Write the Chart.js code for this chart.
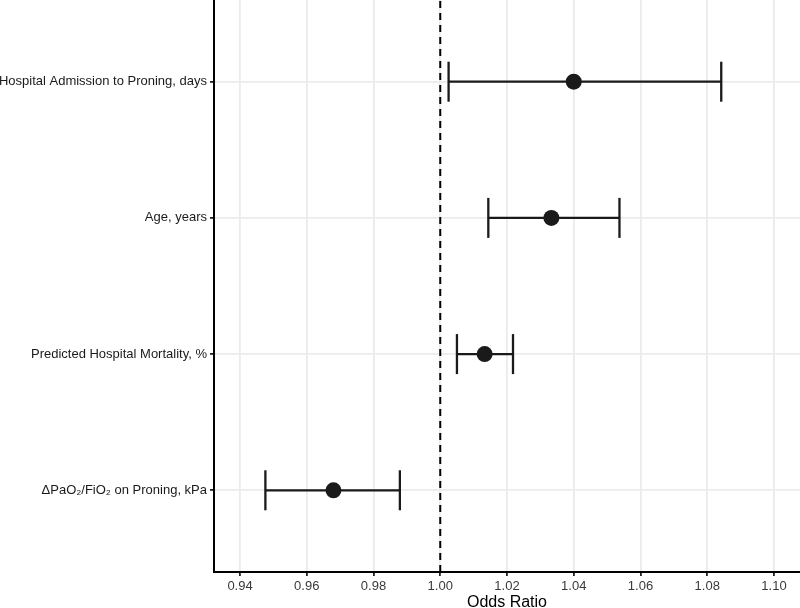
<!DOCTYPE html>
<html>
<head>
<meta charset="utf-8">
<script src="https://cdn.jsdelivr.net/npm/chart.js@4"></script>
<style>
  html,body{margin:0;padding:0;background:#fff;}
  #wrap{width:800px;height:608px;position:relative;}
</style>
</head>
<body>
<div id="wrap"><canvas id="c" width="800" height="608"></canvas></div>
<script>
// Categories from bottom (1) to top (4)
const categories = [
  "ΔPaO₂/FiO₂ on Proning, kPa",
  "Predicted Hospital Mortality, %",
  "Age, years",
  "Hospital Admission to Proning, days"
];
const oddsRatio = [0.968, 1.0133, 1.0333, 1.040];
const ciLower  = [0.9476, 1.005, 1.0144, 1.0025];
const ciUpper  = [0.9879, 1.0218, 1.0537, 1.0842];
const xTicks = [0.94, 0.96, 0.98, 1.00, 1.02, 1.04, 1.06, 1.08, 1.10];
const refValue = 1.00;

const FONT = "'Liberation Sans', Arial, Helvetica, sans-serif";
const ink = '#1a1a1a';

const datasets = [];
// reference dashed line
datasets.push({
  type: 'line',
  data: [{x: refValue, y: 0.4}, {x: refValue, y: 4.6}],
  borderColor: '#000',
  borderWidth: 2,
  borderDash: [7, 5],
  pointRadius: 0,
  fill: false
});
// error bars
categories.forEach((c, i) => {
  datasets.push({
    type: 'line',
    data: [{x: ciLower[i], y: i + 1}, {x: ciUpper[i], y: i + 1}],
    borderColor: ink,
    borderWidth: 2.3,
    pointStyle: 'line',
    pointRadius: 20,
    pointRotation: 90,
    pointBorderWidth: 2.3,
    pointBorderColor: ink,
    pointHoverRadius: 20,
    fill: false
  });
});
// point estimates
datasets.push({
  type: 'scatter',
  data: categories.map((c, i) => ({x: oddsRatio[i], y: i + 1})),
  backgroundColor: ink,
  borderColor: ink,
  pointRadius: 8,
  pointHoverRadius: 8,
  borderWidth: 0
});

new Chart(document.getElementById('c'), {
  type: 'scatter',
  data: {datasets},
  options: {
    responsive: false,
    animation: false,
    events: [],
    layout: {autoPadding: false, padding: {left: 0, right: 0, top: 0, bottom: 0}},
    plugins: {legend: {display: false}, tooltip: {enabled: false}},
    scales: {
      x: {
        type: 'linear',
        min: 0.9322,
        max: 1.1078,
        afterBuildTicks: s => { s.ticks = xTicks.map(v => ({value: v})); },
        afterFit: s => { s.height = 36; s.paddingRight = 0; s.paddingLeft = 0; },
        ticks: {
          callback: v => Number(v).toFixed(2),
          color: '#3a3a3a',
          font: {family: FONT, size: 13},
          padding: 3,
          maxRotation: 0,
          autoSkip: false
        },
        grid: {
          color: '#ebebeb',
          lineWidth: 1.8,
          drawTicks: true,
          tickLength: 4,
          tickColor: '#222',
          tickWidth: 1.8
        },
        border: {display: true, color: '#000', width: 2},
        title: {
          display: true,
          text: 'Odds Ratio',
          color: '#000',
          font: {family: FONT, size: 16, lineHeight: 1},
          padding: {top: -3, bottom: -3}
        }
      },
      y: {
        type: 'linear',
        min: 0.4,
        max: 4.6,
        afterBuildTicks: s => { s.ticks = categories.map((c, i) => ({value: i + 1})); },
        afterFit: s => { s.width = 214; s.paddingTop = 0; s.paddingBottom = 0; },
        ticks: {
          callback: v => categories[Math.round(v) - 1] || '',
          color: '#1a1a1a',
          font: {family: FONT, size: 13},
          padding: 3,
          autoSkip: false
        },
        grid: {
          color: '#ebebeb',
          lineWidth: 1.8,
          drawTicks: true,
          tickLength: 4,
          tickColor: '#222',
          tickWidth: 1.8
        },
        border: {display: true, color: '#000', width: 2}
      }
    }
  }
});
</script>
</body>
</html>
